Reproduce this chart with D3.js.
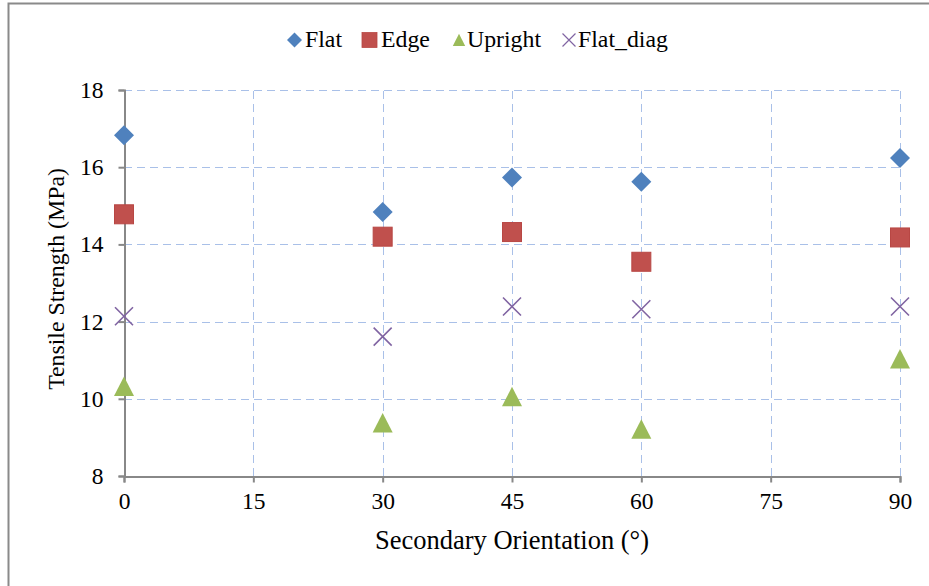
<!DOCTYPE html>
<html>
<head>
<meta charset="utf-8">
<title>tensile</title>
<style>
  body { margin: 0; background: #fff; }
  svg text { font-family: "Liberation Serif", "Times New Roman", serif !important; fill: #000; }
</style>
</head>
<body>
<script src="https://cdn.jsdelivr.net/npm/d3@7"></script>
<script>
// data
var angles = [0, 30, 45, 60, 90];
var flat = [16.83, 14.84, 15.73, 15.62, 16.24];
var edge = [14.78, 14.20, 14.32, 13.55, 14.18];
var upright = [10.32, 9.37, 10.05, 9.21, 11.03];
var flatDiag = [12.14, 11.61, 12.39, 12.32, 12.39];
var seriesNames = ["Flat", "Edge", "Upright", "Flat_diag"];
var xTicks = [0, 15, 30, 45, 60, 75, 90];
var yTicks = [8, 10, 12, 14, 16, 18];

var W = 929, H = 586;
var svg = d3.select("body").append("svg").attr("width", W).attr("height", H);

// chart border (only left/top visible in the crop)
svg.append("rect").attr("x", 8.5).attr("y", 3.5).attr("width", 1200).attr("height", 1200)
  .attr("fill", "none").attr("stroke", "#8a8a8a").attr("stroke-width", 2);

var x = d3.scaleLinear().domain([0, 90]).range([124, 900]);
var y = d3.scaleLinear().domain([8, 18]).range([476, 90]);

var gridColor = "#a9c0e8";
// gridlines
svg.append("g").selectAll("line").data(yTicks.filter(d => d > 8)).enter().append("line")
  .attr("x1", x(0)).attr("x2", x(90))
  .attr("y1", d => Math.round(y(d)) + 0.5).attr("y2", d => Math.round(y(d)) + 0.5)
  .attr("stroke", gridColor).attr("stroke-dasharray", "8,5");
svg.append("g").selectAll("line").data(xTicks.filter(d => d > 0)).enter().append("line")
  .attr("x1", d => Math.round(x(d)) + 0.5).attr("x2", d => Math.round(x(d)) + 0.5)
  .attr("y1", y(8)).attr("y2", y(18))
  .attr("stroke", gridColor).attr("stroke-dasharray", "8,5");

// axes
var yAxis = d3.axisLeft(y).tickValues(yTicks).tickSize(6).tickPadding(15);
var gy = svg.append("g").attr("transform", "translate(" + (x(0) + 0.5) + ",0)").call(yAxis);
var xAxis = d3.axisBottom(x).tickValues(xTicks).tickSize(6).tickPadding(10);
var gx = svg.append("g").attr("transform", "translate(0," + (y(8) + 0.5) + ")").call(xAxis);
[gx, gy].forEach(function (g) {
  g.attr("font-size", null).attr("font-family", null);
  g.select(".domain").attr("stroke", "#888").attr("stroke-width", 2);
  g.selectAll(".tick line").attr("stroke", "#888").attr("stroke-width", 2);
  g.selectAll(".tick text").style("font-size", "23.5px").attr("fill", "#000");
});

// axis titles
svg.append("text").attr("x", 512).attr("y", 549).attr("text-anchor", "middle")
  .style("font-size", "26.5px").text("Secondary Orientation (°)");
svg.append("text").attr("transform", "translate(64,279) rotate(-90)")
  .attr("text-anchor", "middle").style("font-size", "23.8px").text("Tensile Strength (MPa)");

// marker shapes
var colors = ["#4f81bd", "#c0504d", "#9bbb59", "#8064a2"];
function marker(g, i) {
  if (i === 0) g.append("path").attr("d", "M0,-10L10,0L0,10L-10,0Z").attr("fill", colors[0]);
  else if (i === 1) g.append("rect").attr("x", -9.5).attr("y", -9.5).attr("width", 19).attr("height", 19)
    .attr("fill", colors[1]).attr("stroke", "#b84744").attr("stroke-width", 1);
  else if (i === 2) g.append("path").attr("d", "M0,-10L10,9.5L-10,9.5Z").attr("fill", colors[2]);
  else g.append("path").attr("d", "M-9,-9L9,9M-9,9L9,-9").attr("stroke", colors[3]).attr("stroke-width", 1.6).attr("fill", "none");
}

var allSeries = [flat, edge, upright, flatDiag];
allSeries.forEach(function (vals, i) {
  svg.append("g").selectAll("g").data(angles).enter().append("g")
    .attr("transform", (d, j) => "translate(" + x(d) + "," + y(vals[j]) + ")")
    .each(function () { marker(d3.select(this), i); });
});

// legend
var legMarkX = [294.5, 369.5, 459, 569];
var legTextX = [305, 381, 467, 578];
var legScale = [0.75, 0.79, 0.62, 0.72];
seriesNames.forEach(function (n, i) {
  var m = svg.append("g").attr("transform", "translate(" + legMarkX[i] + ",40) scale(" + legScale[i] + ")");
  marker(m, i);
  svg.append("text").attr("x", legTextX[i]).attr("y", 47).style("font-size", "23.8px").text(n);
});
</script>
</body>
</html>
